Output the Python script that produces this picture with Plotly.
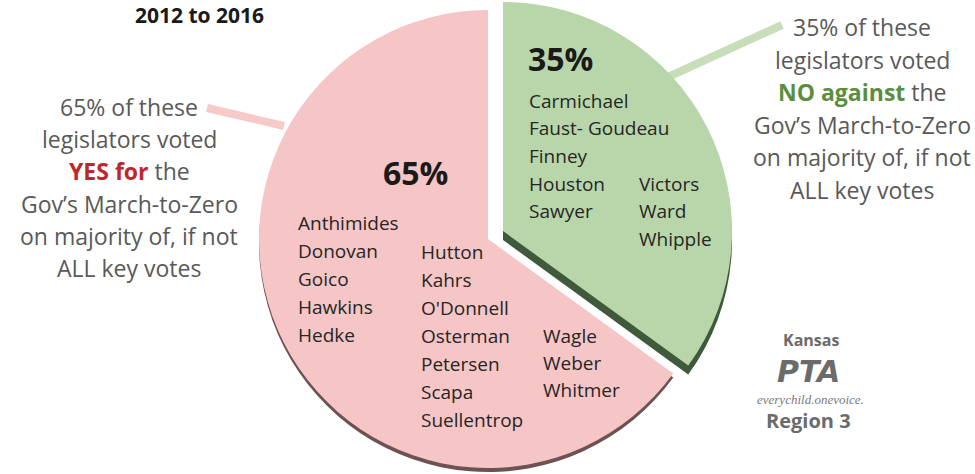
import plotly.graph_objects as go

W, H = 975, 474

# ---- data ----
categories = ["NO against", "YES for"]
shares = [35, 65]
no_names_col1 = ["Carmichael", "Faust- Goudeau", "Finney", "Houston", "Sawyer"]
no_names_col2 = ["Victors", "Ward", "Whipple"]
yes_names_col1 = ["Anthimides", "Donovan", "Goico", "Hawkins", "Hedke"]
yes_names_col2 = ["Hutton", "Kahrs", "O'Donnell", "Osterman", "Petersen", "Scapa", "Suellentrop"]
yes_names_col3 = ["Wagle", "Weber", "Whitmer"]
left_lines = ["65% of these", "legislators voted",
              "<b><span style='color:#C0272D'>YES for</span></b> the",
              "Gov’s March-to-Zero", "on majority of, if not", "ALL key votes"]
right_lines = ["35% of these", "legislators voted",
               "<b><span style='color:#5A8E3E'>NO against</span></b> the",
               "Gov’s March-to-Zero", "on majority of, if not", "ALL key votes"]

PINK = "#F6C5C5"
GREEN = "#B9D6AA"
PINK_SH = "#6E5252"
GREEN_SH = "#3F5A3A"
CLEAR = "rgba(0,0,0,0)"
R = 229
FONT = "Open Sans"


def dom(cx, cy, r=R):
    return dict(x=[(cx - r) / W, (cx + r) / W],
                y=[(H - cy - r) / H, (H - cy + r) / H])


def pie(cx, cy, colors):
    return go.Pie(labels=categories, values=shares, sort=False, direction="clockwise",
                  rotation=0, domain=dom(cx, cy), textinfo="none", hoverinfo="skip",
                  marker=dict(colors=colors, line=dict(width=0)), showlegend=False)


fig = go.Figure()
# 3D-ish shadows
fig.add_trace(pie(488, 243, [CLEAR, PINK_SH]))
fig.add_trace(pie(503, 240, [GREEN_SH, CLEAR]))
# main slices (green exploded)
fig.add_trace(pie(488, 239, [CLEAR, PINK]))
fig.add_trace(pie(503, 231, [GREEN, CLEAR]))


def px(x):
    return x / W


def py(y):
    return 1 - y / H


ann = []


def text(x, y, t, size, color, xanchor="left", bold=False, family=FONT, italic=False):
    if bold:
        t = "<b>" + t + "</b>"
    if italic:
        t = "<i>" + t + "</i>"
    ann.append(dict(x=px(x), y=py(y), xref="paper", yref="paper", text=t, showarrow=False,
                    xanchor=xanchor, yanchor="middle",
                    font=dict(size=size, color=color, family=family)))


text(199, 15, "2012 to 2016", 21, "#1a1a1a", xanchor="center", bold=True)

for i, ln in enumerate(left_lines):
    text(129, 107 + i * 32.2, ln, 23, "#595959", xanchor="center")
for i, ln in enumerate(right_lines):
    text(862, 27 + i * 32.6, ln, 23, "#595959", xanchor="center")

text(526, 58, "35%", 32, "#1a1a1a", bold=True)
text(415, 172, "65%", 32, "#1a1a1a", xanchor="center", bold=True)

for i, n in enumerate(no_names_col1):
    text(527, 101 + i * 27.5, n, 19, "#262626")
for i, n in enumerate(no_names_col2):
    text(637, 184 + i * 27.5, n, 19, "#262626")
for i, n in enumerate(yes_names_col1):
    text(296, 223 + i * 28, n, 19, "#262626")
for i, n in enumerate(yes_names_col2):
    text(419, 252 + i * 28, n, 19, "#262626")
for i, n in enumerate(yes_names_col3):
    text(541, 336 + i * 27, n, 19, "#262626")

# logo
text(811, 340, "Kansas", 16, "#6b6b6b", xanchor="center", bold=True)
text(808, 371, "PTA", 30, "#6b6b6b", xanchor="center", bold=True, italic=True,
     family="DejaVu Sans")
text(810, 399, "everychild.onevoice.", 13, "#7a7a7a", xanchor="center", italic=True,
     family="Liberation Serif")
text(808, 420, "Region 3", 20, "#6b6b6b", xanchor="center", bold=True)

shapes = [
    dict(type="line", xref="paper", yref="paper", x0=px(207), y0=py(108), x1=px(284), y1=py(126),
         line=dict(color="#F7CACA", width=8), layer="below"),
    dict(type="line", xref="paper", yref="paper", x0=px(668), y0=py(77), x1=px(782), y1=py(25),
         line=dict(color="#C8DEBB", width=8), layer="below"),
]

fig.update_layout(width=W, height=H, margin=dict(l=0, r=0, t=0, b=0),
                  paper_bgcolor="white", plot_bgcolor="white",
                  annotations=ann, shapes=shapes, showlegend=False)

fig.write_html("out.html", config={"displayModeBar": False},
               post_script="document.body.style.margin='0';document.body.style.overflow='hidden';")
